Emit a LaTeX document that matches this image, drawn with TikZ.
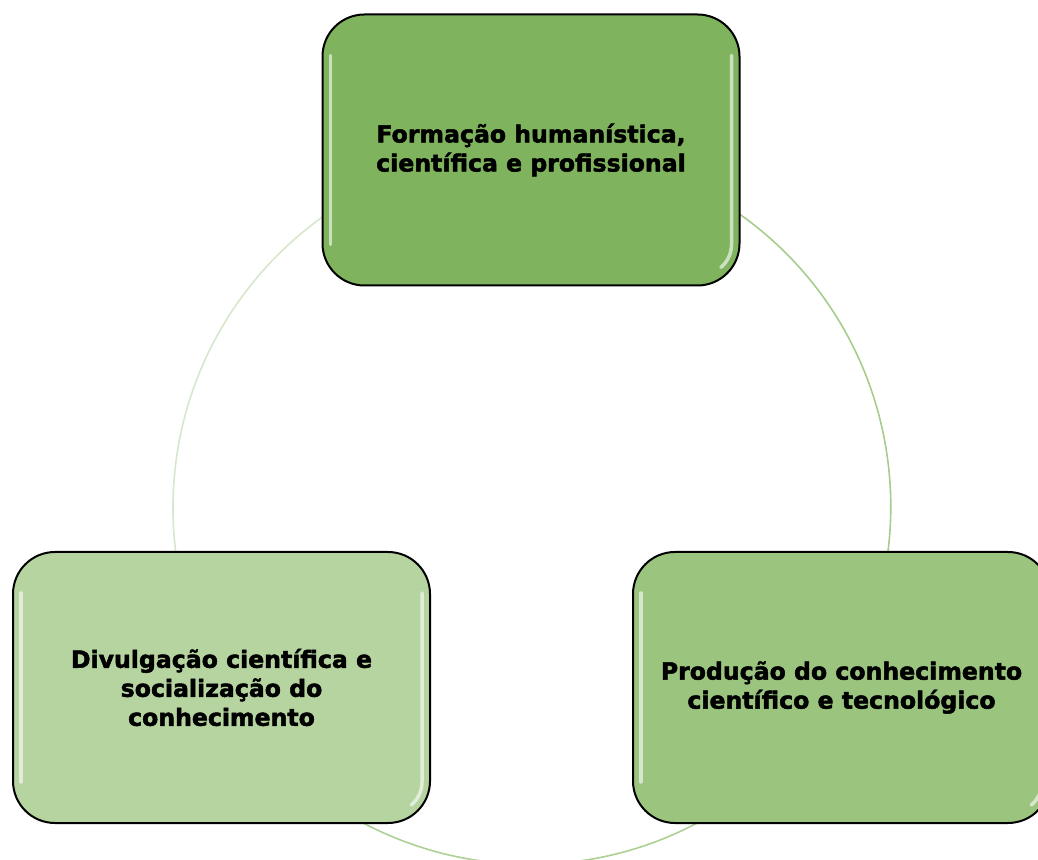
\documentclass[tikz,border=0pt]{standalone}
\usepackage{fontspec}
\setmainfont{DejaVu Sans}
\newfontfamily\boxfont[FakeBold=2]{DejaVu Sans Bold}
\usetikzlibrary{backgrounds}
\definecolor{topfill}{HTML}{7FB35D}
\definecolor{leftfill}{HTML}{B6D4A0}
\definecolor{rightfill}{HTML}{9BC57F}
\definecolor{arcleft}{HTML}{D6E7CB}
\definecolor{arcright}{HTML}{A6CD8C}
\definecolor{arcbottom}{HTML}{ADD194}
\begin{document}
\begin{tikzpicture}[x=1pt,y=1pt,
  box/.style={draw=black, line width=2pt, rounded corners=42pt,
    minimum width=417pt, minimum height=271pt, align=center,
    font=\boxfont\fontsize{23.6}{29}\selectfont, inner sep=0pt},
  hl/.style={white, opacity=0.6, line width=3.5pt, line cap=round},
  ring/.style={line width=1.6pt}]
\useasboundingbox (0,0) rectangle (1038,859);
\clip (0,0) rectangle (1038,859);
\coordinate (O) at (531,353);
\node[box, fill=topfill] (top) at (531,709) {Formação humanística,\\científica e profissional};
\node[box, fill=leftfill] (left) at (221.5,171.5) {Divulgação científica e\\socialização do\\conhecimento};
\node[box, fill=rightfill] (right) at (841.5,171.5) {Produção do conhecimento\\científico e tecnológico};
\foreach \n in {top,left,right}{
  \draw[hl] ([xshift=9pt,yshift=-42pt]\n.north west) -- ([xshift=9pt,yshift=42pt]\n.south west);
  \draw[hl] ([xshift=-9pt,yshift=-42pt]\n.north east) -- ([xshift=-9pt,yshift=42pt]\n.south east)
     arc[start angle=0, end angle=-50, radius=30pt];
}
\begin{pgfonlayer}{background}
\draw[ring, arcleft] (top.center) arc[start angle=90, end angle=210.4, radius=358];
\draw[ring, arcbottom] (left.center) arc[start angle=210.4, end angle=329.6, radius=358];
\draw[ring, arcright] (right.center) arc[start angle=-30.4, end angle=90, radius=358];
\end{pgfonlayer}
\end{tikzpicture}
\end{document}
